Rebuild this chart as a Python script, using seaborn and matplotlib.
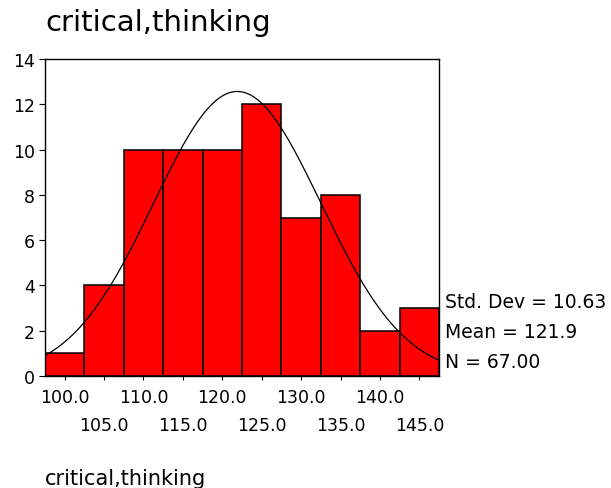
import seaborn as sns
import matplotlib.pyplot as plt
import pandas as pd
import numpy as np

# histogram data (bin centres, width 5)
bin_centers = [100, 105, 110, 115, 120, 125, 130, 135, 140, 145]
counts = [1, 4, 10, 10, 10, 12, 7, 8, 2, 3]
major_ticks = [100, 110, 120, 130, 140]
minor_ticks = [105, 115, 125, 135, 145]
y_ticks = [0, 2, 4, 6, 8, 10, 12, 14]

std_dev = 10.63
mean = 121.9
n = 67
bin_width = 5

TITLE = "critical,thinking"
BAR_RED = "#FF0000"

sns.set_style("white")
plt.rcParams['font.family'] = ['DejaVu Sans']
plt.rcParams['text.color'] = 'black'

df = pd.DataFrame({"score": bin_centers, "count": counts})

fig = plt.figure(figsize=(6.11, 4.89), dpi=100)
ax = fig.add_axes([0.0736, 0.229, 0.645, 0.648])

sns.histplot(data=df, x="score", weights="count", binwidth=bin_width,
             binrange=(97.5, 147.5), color=BAR_RED, edgecolor="black",
             linewidth=1.1, alpha=1, ax=ax)

# fitted normal curve, scaled to counts
xs = np.linspace(97.5, 147.5, 300)
ys = n * bin_width * np.exp(-0.5 * ((xs - mean) / std_dev) ** 2) / (std_dev * np.sqrt(2 * np.pi))
sns.lineplot(x=xs, y=ys, color="black", linewidth=0.9, ax=ax)

ax.set_xlim(97.5, 147.5)
ax.set_ylim(0, 14)
ax.set_xlabel("")
ax.set_ylabel("")

ax.set_xticks(major_ticks)
ax.set_xticklabels([f"{v:.1f}" for v in major_ticks])
ax.set_xticks(minor_ticks, minor=True)
ax.set_xticklabels([f"{v:.1f}" for v in minor_ticks], minor=True)
ax.set_yticks(y_ticks)

ax.tick_params(axis="x", which="major", direction="out", length=3, width=0.8,
               pad=5.5, labelsize=12.5, colors="black", bottom=True)
ax.tick_params(axis="x", which="minor", direction="out", length=3, width=0.8,
               pad=26, labelsize=12.5, colors="black", bottom=True)
ax.tick_params(axis="y", direction="out", length=4, width=0.8, pad=3,
               labelsize=12.5, colors="black", left=True)

for s in ax.spines.values():
    s.set_color("black")
    s.set_linewidth(1.0)

fig.text(45 / 611, 1 - 23 / 489, TITLE, fontsize=21, va="center", ha="left")
fig.text(45 / 611, 1 - 479 / 489, TITLE, fontsize=15, va="center", ha="left")

fig.text(445 / 611, 1 - 303 / 489, f"Std. Dev = {std_dev:.2f}", fontsize=13.5, va="center")
fig.text(445 / 611, 1 - 333 / 489, f"Mean = {mean:.1f}", fontsize=13.5, va="center")
fig.text(445 / 611, 1 - 363 / 489, f"N = {n:.2f}", fontsize=13.5, va="center")

fig.savefig("out.png", dpi=100, facecolor="white")
plt.close(fig)
